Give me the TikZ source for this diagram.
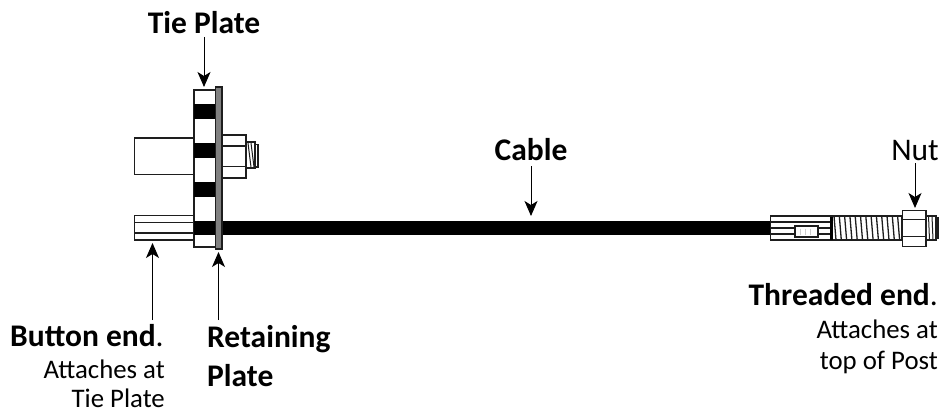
\documentclass[tikz,border=0pt]{standalone}
\usepackage{fontspec}
\setmainfont{Carlito}
\usetikzlibrary{arrows.meta}
\definecolor{plategrey}{RGB}{128,128,128}
\definecolor{inkline}{RGB}{30,30,30}
\tikzset{
 part/.style={draw=inkline,line width=1.5pt,fill=white},
 thin part/.style={draw=inkline,line width=1.5pt},
 pointer/.style={draw=black,line width=1pt,-{Stealth[length=15pt,width=13pt,inset=4pt]}},
 head/.style={font=\fontsize{31.5}{39}\selectfont\bfseries,inner sep=0pt},
 plain/.style={font=\fontsize{31.5}{39}\selectfont,inner sep=0pt},
 note/.style={font=\fontsize{26.8}{31.5}\selectfont,inner sep=0pt,align=right},
 fine/.style={draw=inkline,line width=1pt},
}
\begin{document}
\begin{tikzpicture}[x=1pt,y=-1pt]
\useasboundingbox (0,0) rectangle (942,412);
% cable
\fill[black] (222,221) rectangle (771,235);
% upper bolt
\draw[part] (134.5,138) rectangle (194,174.5);
% button end
\draw[part] (134.5,215.5) rectangle (194,240);
\draw[thin part] (134.5,222.5) -- (194,222.5) (134.5,233) -- (194,233);
% tie plate
\draw[part] (194,90) rectangle (215.5,247);
\foreach \a/\b in {104/119,143/158,182/197,221/235}
  \fill[black] (194,\a) rectangle (215.5,\b);
% retaining plate
\draw[draw=inkline,line width=1.5pt,fill=plategrey] (215.5,87) rectangle (222,249);
% nut on upper bolt
\draw[part] (222,135) rectangle (246,178);
\draw[thin part] (222,146) -- (246,146) (222,166.5) -- (246,166.5);
\draw[part] (246,142) rectangle (255,168);
\draw[part] (255,144.5) rectangle (258,167);
\draw[fine] (248,143) -- (251,167) (251,143) -- (254,167);
% threaded end
\draw[part] (770.5,216) rectangle (902,240);
\draw[thin part] (770.5,222) -- (830,222) (770.5,228) -- (795,228) (770.5,234) -- (795,234) (818,228) -- (830,228) (818,234) -- (830,234);
\fill[black] (830,216.5) rectangle (832.5,239.5);
\draw[part] (795,226) rectangle (818,237);
\foreach \x in {800,805,810} \draw[draw=black!20,line width=0.6pt] (\x,228.5) -- (\x,234.5);
\foreach \x in {834,839.3,...,900} \draw[draw=inkline,line width=1.3pt] (\x,216) -- (\x+2,240);
\draw[part] (926,216) rectangle (936,240);
\foreach \x in {928.5,932} \draw[fine] (\x,216) -- (\x+1,240);
\draw[part] (936,218) rectangle (938,238);
\draw[part] (902.5,210.5) rectangle (926,246.5);
\draw[thin part] (902.5,219.5) -- (926,219.5) (902.5,236.5) -- (926,236.5);
% labels
\node[head,anchor=base] (tie) at (204,34) {Tie Plate};
\node[head,anchor=base] (cable) at (531,160) {Cable};
\node[plain,anchor=base] (nut) at (915,160) {Nut};
\node[head,anchor=base west] (button) at (10,346) {Button end\textmd{.}};
\node[note,anchor=base east] (buttonnote) at (165,378) {Attaches at};
\node[note,anchor=base east] (buttonnoteb) at (165,407.5) {Tie Plate};
\node[head,anchor=base west] (retain) at (207,347) {Retaining};
\node[head,anchor=base west] (retainb) at (207,386) {Plate};
\node[head,anchor=base east] (threaded) at (938,305) {Threaded end\textmd{.}};
\node[note,anchor=base east] (threadnote) at (938,338) {Attaches at};
\node[note,anchor=base east] (threadnoteb) at (938,369) {top of Post};
% pointers
\coordinate (tieS) at (204,37);
\coordinate (tieT) at (204,87);
\coordinate (cableS) at (531,166);
\coordinate (cableT) at (531,216);
\coordinate (nutS) at (915,163);
\coordinate (nutT) at (915,208);
\coordinate (buttonS) at (152.5,320);
\coordinate (buttonT) at (152.5,243);
\coordinate (retainS) at (218.5,320);
\coordinate (retainT) at (218.5,252);
\draw[pointer] (tieS) -- (tieT);
\draw[pointer] (cableS) -- (cableT);
\draw[pointer] (nutS) -- (nutT);
\draw[pointer] (buttonS) -- (buttonT);
\draw[pointer] (retainS) -- (retainT);
\end{tikzpicture}
\end{document}
